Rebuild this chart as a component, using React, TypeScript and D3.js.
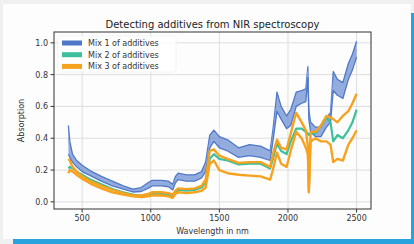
import React from "react";
import * as d3 from "d3";

const wavelengths = [400, 410, 430, 460, 500, 560, 640, 720, 800, 870, 930, 980, 1010, 1080, 1130, 1160, 1180, 1200, 1260, 1320, 1370, 1400, 1430, 1460, 1500, 1560, 1640, 1720, 1800, 1870, 1890, 1920, 1950, 1990, 2020, 2060, 2100, 2130, 2145, 2152, 2165, 2200, 2240, 2280, 2310, 2330, 2360, 2400, 2440, 2470, 2500];

// Mix 1 (blue band: top, middle, bottom spectra)
const mix1High = [0.48, 0.38, 0.30, 0.26, 0.23, 0.195, 0.16, 0.13, 0.10, 0.08, 0.09, 0.12, 0.135, 0.135, 0.13, 0.11, 0.16, 0.18, 0.17, 0.17, 0.19, 0.25, 0.42, 0.45, 0.41, 0.39, 0.34, 0.36, 0.35, 0.32, 0.45, 0.69, 0.60, 0.54, 0.58, 0.69, 0.70, 0.71, 0.85, 0.58, 0.50, 0.47, 0.47, 0.53, 0.56, 0.82, 0.77, 0.75, 0.87, 0.93, 1.01];
const mix1Mid = [0.40, 0.33, 0.28, 0.24, 0.21, 0.18, 0.145, 0.115, 0.09, 0.07, 0.075, 0.10, 0.115, 0.115, 0.11, 0.09, 0.14, 0.16, 0.15, 0.15, 0.17, 0.22, 0.38, 0.42, 0.38, 0.36, 0.31, 0.33, 0.32, 0.29, 0.42, 0.63, 0.56, 0.50, 0.53, 0.65, 0.66, 0.67, 0.82, 0.55, 0.47, 0.44, 0.44, 0.50, 0.53, 0.76, 0.72, 0.70, 0.82, 0.88, 0.96];
const mix1Low = [0.30, 0.28, 0.25, 0.22, 0.19, 0.165, 0.13, 0.10, 0.08, 0.062, 0.065, 0.085, 0.10, 0.10, 0.095, 0.075, 0.12, 0.14, 0.13, 0.13, 0.15, 0.19, 0.34, 0.38, 0.34, 0.32, 0.28, 0.29, 0.28, 0.26, 0.38, 0.57, 0.52, 0.46, 0.48, 0.60, 0.62, 0.63, 0.78, 0.52, 0.44, 0.41, 0.41, 0.47, 0.50, 0.70, 0.67, 0.65, 0.77, 0.83, 0.91];

// Mix 2 (green)
const mix2 = [0.21, 0.22, 0.21, 0.19, 0.17, 0.14, 0.11, 0.08, 0.06, 0.045, 0.04, 0.045, 0.05, 0.05, 0.045, 0.03, 0.06, 0.075, 0.07, 0.075, 0.09, 0.12, 0.27, 0.30, 0.27, 0.26, 0.235, 0.24, 0.24, 0.21, 0.27, 0.37, 0.32, 0.30, 0.38, 0.46, 0.46, 0.44, 0.43, 0.42, 0.43, 0.43, 0.48, 0.53, 0.50, 0.38, 0.42, 0.40, 0.45, 0.50, 0.58];

// Mix 3 (orange: upper and lower group)
const mix3Upper = [0.27, 0.26, 0.22, 0.19, 0.16, 0.13, 0.10, 0.075, 0.055, 0.04, 0.04, 0.05, 0.06, 0.06, 0.055, 0.045, 0.07, 0.085, 0.08, 0.085, 0.10, 0.14, 0.32, 0.33, 0.29, 0.27, 0.245, 0.25, 0.25, 0.22, 0.30, 0.39, 0.34, 0.33, 0.43, 0.56, 0.50, 0.45, 0.35, 0.07, 0.44, 0.44, 0.48, 0.54, 0.53, 0.52, 0.50, 0.54, 0.57, 0.62, 0.68];
const mix3Lower = [0.18, 0.20, 0.19, 0.17, 0.145, 0.115, 0.085, 0.06, 0.045, 0.035, 0.03, 0.035, 0.04, 0.04, 0.035, 0.025, 0.05, 0.06, 0.055, 0.06, 0.07, 0.09, 0.24, 0.26, 0.20, 0.18, 0.17, 0.165, 0.16, 0.14, 0.20, 0.31, 0.24, 0.22, 0.32, 0.44, 0.40, 0.34, 0.30, 0.06, 0.38, 0.40, 0.38, 0.38, 0.36, 0.25, 0.27, 0.26, 0.36, 0.40, 0.45];

const legendLabels = ["Mix 1 of additives", "Mix 2 of additives", "Mix 3 of additives"];
const xTicks = [500, 1000, 1500, 2000, 2500];
const yTicks = [0, 0.2, 0.4, 0.6, 0.8, 1.0];

const BLUE = "#4f78c9";
const GREEN = "#3cc09c";
const ORANGE = "#f7a21e";
const colors = [BLUE, GREEN, ORANGE];

export default function App() {
  const W = 414;
  const H = 244;
  const left = 54, right = 371, top = 32, bottom = 209;

  const x = d3.scaleLinear().domain([295, 2605]).range([left, right]);
  const y = d3.scaleLinear().domain([-0.045, 1.068]).range([bottom, top]);

  const line = (vals: number[]) =>
    d3.line<number>().x((_, i) => x(wavelengths[i])).y((d) => y(d))(vals) || "";

  // fill between the outer blue spectra so the band reads as many lines
  const band = d3
    .area<number>()
    .x((_, i) => x(wavelengths[i]))
    .y0((_, i) => y(mix1Low[i]))
    .y1((_, i) => y(mix1High[i]))(mix1Mid) || "";

  const font = "DejaVu Sans, sans-serif";

  return (
    <div style={{ position: "fixed", left: 0, top: 0 }}>
      <svg width={W} height={H} style={{ display: "block" }}>
        <rect x={0} y={0} width={W} height={H} fill="#f0f0f0" />
        <rect x={13} y={13} width={W - 13} height={H - 13} fill="#29a3dd" />
        <rect x={3} y={4} width={408} height={235} fill="#fdfdfd" />

        <defs>
          <clipPath id="plot">
            <rect x={left} y={top} width={right - left} height={bottom - top} />
          </clipPath>
        </defs>

        {/* grid */}
        {xTicks.map((t) => (
          <line key={"gx" + t} x1={x(t)} x2={x(t)} y1={top} y2={bottom} stroke="#dedede" strokeWidth={1} />
        ))}
        {yTicks.map((t) => (
          <line key={"gy" + t} x1={left} x2={right} y1={y(t)} y2={y(t)} stroke="#dedede" strokeWidth={1} />
        ))}

        <g clipPath="url(#plot)" fill="none" strokeLinejoin="round">
          <path d={band} fill={BLUE} opacity={0.6} />
          <path d={line(mix1High)} stroke={BLUE} strokeWidth={1.3} />
          <path d={line(mix1Mid)} stroke="#8fa9dd" strokeWidth={0.8} />
          <path d={line(mix1Low)} stroke={BLUE} strokeWidth={1.3} />
          <path d={line(mix2)} stroke={GREEN} strokeWidth={2.2} />
          <path d={line(mix3Upper)} stroke={ORANGE} strokeWidth={2.4} />
          <path d={line(mix3Lower)} stroke={ORANGE} strokeWidth={2.4} />
        </g>

        {/* spines */}
        <rect x={left} y={top} width={right - left} height={bottom - top} fill="none" stroke="#333" strokeWidth={1} />

        {/* ticks */}
        {xTicks.map((t) => (
          <g key={"tx" + t}>
            <line x1={x(t)} x2={x(t)} y1={bottom} y2={bottom + 3.5} stroke="#333" />
            <text x={x(t)} y={221} textAnchor="middle" fontSize={8} fontFamily={font} fill="#333">
              {t}
            </text>
          </g>
        ))}
        {yTicks.map((t) => (
          <g key={"ty" + t}>
            <line x1={left - 3.5} x2={left} y1={y(t)} y2={y(t)} stroke="#333" />
            <text x={left - 6} y={y(t) + 3} textAnchor="end" fontSize={8} fontFamily={font} fill="#333">
              {d3.format(".1f")(t)}
            </text>
          </g>
        ))}

        {/* legend */}
        <rect x={58} y={36} width={118} height={36} rx={2} fill="#ffffff" fillOpacity={0.8} stroke="#eeeeee" strokeWidth={0.6} />
        {legendLabels.map((l, i) => (
          <g key={l}>
            <rect x={62} y={40.5 + i * 11.7} width={20} height={5} fill={colors[i]} />
            <text x={88} y={46 + i * 11.7} fontSize={8} fontFamily={font} fill="#333">
              {l}
            </text>
          </g>
        ))}

        {/* labels */}
        <text x={(left + right) / 2} y={28} textAnchor="middle" fontSize={10} fontFamily={font} fill="#222">
          Detecting additives from NIR spectroscopy
        </text>
        <text x={(left + right) / 2} y={234} textAnchor="middle" fontSize={8} fontFamily={font} fill="#333">
          Wavelength in nm
        </text>
        <text transform={`translate(24,${(top + bottom) / 2}) rotate(-90)`} textAnchor="middle" fontSize={8} fontFamily={font} fill="#333">
          Absorption
        </text>
      </svg>
    </div>
  );
}
